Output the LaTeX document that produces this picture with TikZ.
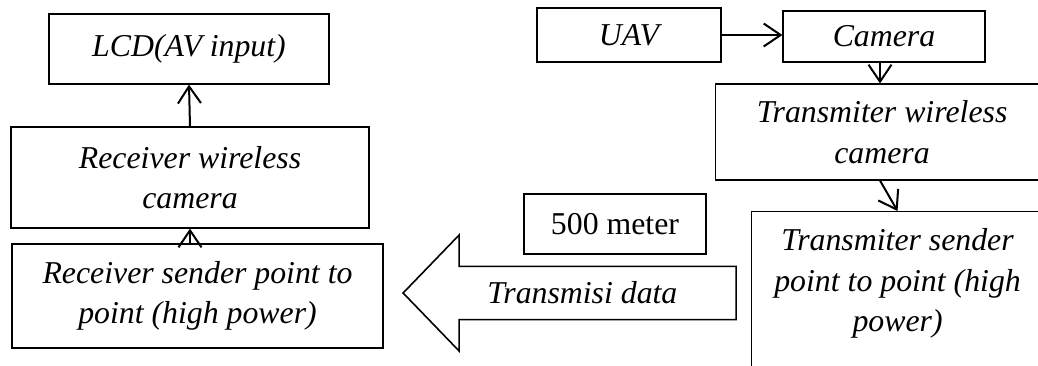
\documentclass[tikz,border=0pt]{standalone}
\usepackage{fontspec}
\setmainfont{Liberation Serif}
\usetikzlibrary{arrows.meta}
\usetikzlibrary{shapes.arrows}

\begin{document}
\begin{tikzpicture}
	[
		x=1pt, y=-1pt,
		% Make a style for a box of the chain.
		block/.style={draw, line width=1.1pt, inner sep=0pt, align=center,
			font=\fontsize{31.8}{40.5}\selectfont\itshape},
		% And one for the arrows between the boxes.
		flow/.style={line width=2pt,
			-{Straight Barb[length=17pt, width=23pt, line width=2pt]}}
	]
		\useasboundingbox (0,0) rectangle (1038,365);
		\clip (0,0) rectangle (1038,365);

		% Receiving side
		\node[block, minimum width=280, minimum height=70] (lcd) at (189,49) {LCD(AV input)};
		\node[block, minimum width=358, minimum height=101] (rxcam) at (190,177.5) {Receiver wireless\\camera};
		\node[block, minimum width=371, minimum height=104] (rxsend) at (197.5,296) {Receiver sender point to\\point (high power)};

		% Sending side
		\node[block, minimum width=184, minimum height=54] (uav) at (629,35) {UAV};
		\node[block, minimum width=202, minimum height=51] (camera) at (884,36.5) {Camera};
		\node[block, anchor=west, minimum width=333, minimum height=96] (txcam) at (715,132) {Transmiter wireless\\camera};
		\node
		[
			block,
			anchor=north west,
			minimum width=292,
			minimum height=180,
			label={[block, draw=none, anchor=north, yshift=-17pt]north:{Transmiter sender\\point to point (high\\power)}},
		] (txsend) at (751,211) {};

		% Link between both sides
		\node[block, font=\fontsize{31.8}{40.5}\selectfont, minimum width=182, minimum height=60] (dist) at (615,224) {500 meter};
		\node
		[
			block,
			single arrow,
			shape border rotate=180,
			line width=1.6pt,
			inner ysep=12.5pt,
			minimum height=333,
			minimum width=116,
			single arrow head extend=29pt,
			single arrow tip angle=92,
			anchor=tip,
		] (link) at (402,293) {Transmisi data};

		% Draw arrows
		\draw[flow] (rxcam.north) -- (lcd.south);
		\draw[flow] (rxsend.north -| rxcam.south) -- (rxcam.south);
		\draw[flow] (uav.east) -- (uav.east -| camera.west);
		\draw[flow] (camera.south -| 880,0) -- (txcam.north -| 880,0);
		\draw[flow] (txcam.south -| 880,0) -- (txsend.north);
	\end{tikzpicture}
\end{document}
